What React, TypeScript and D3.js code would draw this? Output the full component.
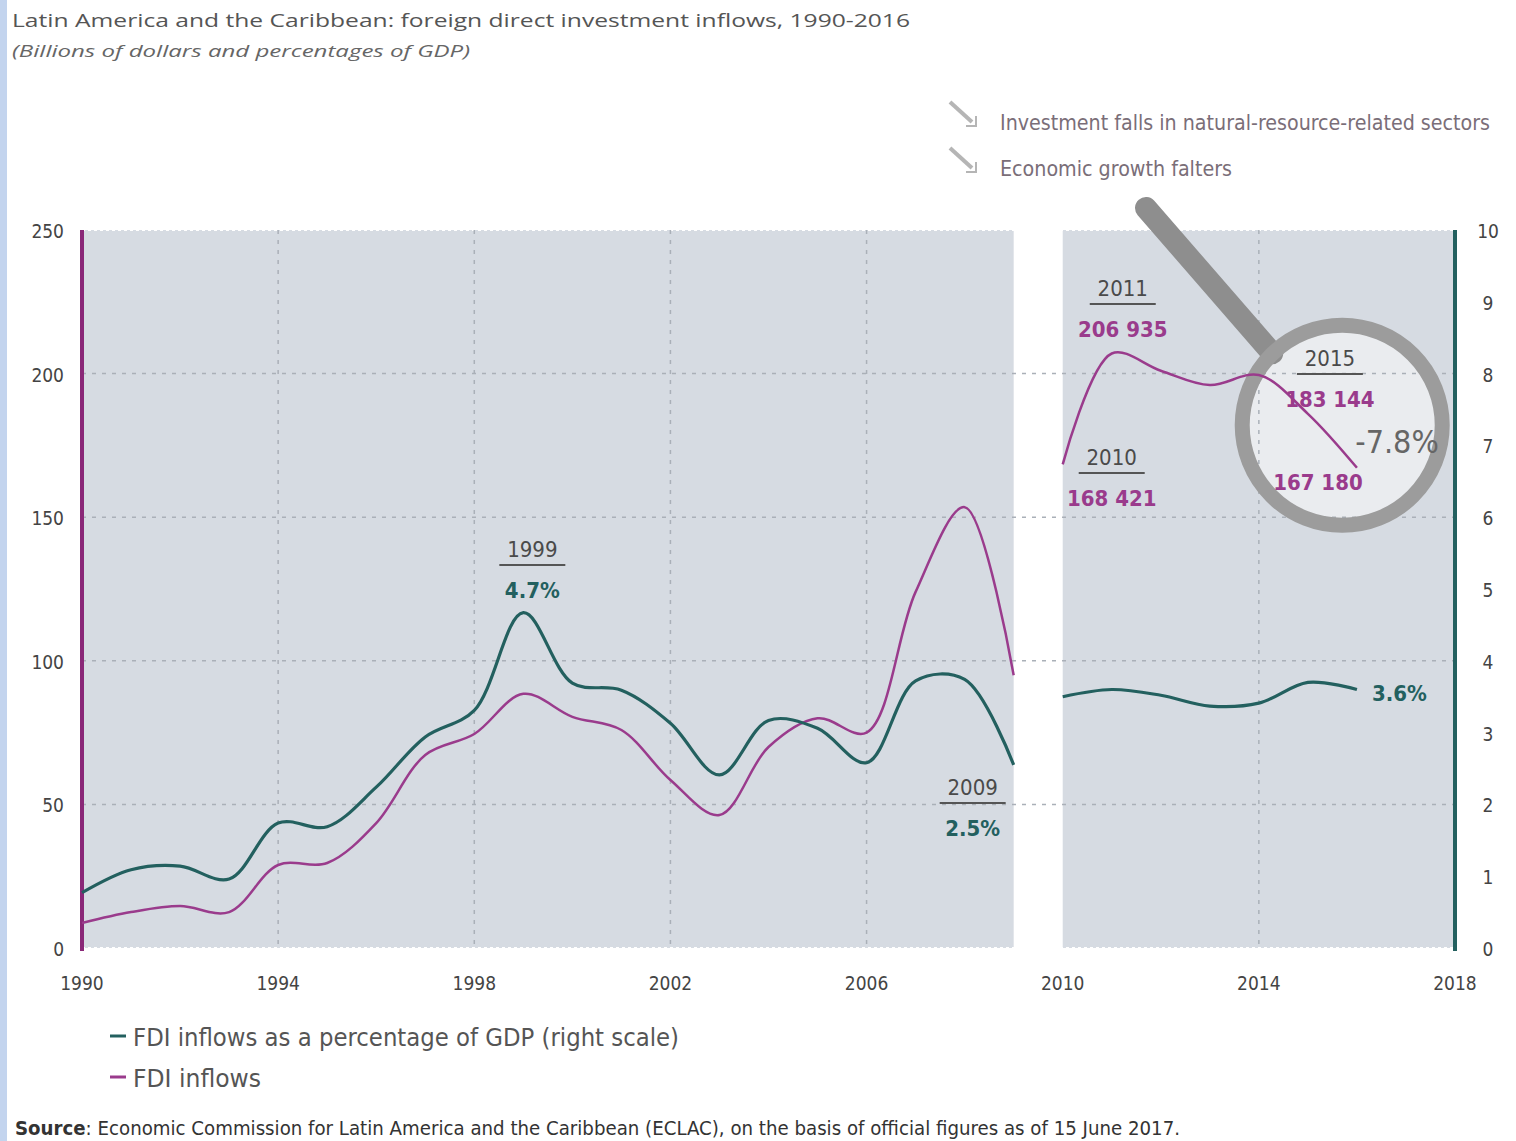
import React from "react";
import * as d3 from "d3";

const yearsA = [1990, 1991, 1992, 1993, 1994, 1995, 1996, 1997, 1998, 1999, 2000, 2001, 2002, 2003, 2004, 2005, 2006, 2007, 2008, 2009];
const inflowsA = [8.7, 12.5, 14.6, 12.5, 28.9, 29.6, 43.5, 67.2, 74.5, 88.5, 80.5, 75.9, 58.5, 46.3, 70, 80, 75, 124, 153.5, 95];
const gdpA = [0.77, 1.09, 1.14, 0.96, 1.74, 1.69, 2.24, 2.94, 3.31, 4.67, 3.69, 3.59, 3.13, 2.41, 3.17, 3.06, 2.58, 3.72, 3.74, 2.55];

const yearsB = [2010, 2011, 2012, 2013, 2014, 2015, 2016];
const inflowsB = [168.4, 207, 201, 196, 199.5, 186, 167.2];
const gdpB = [3.5, 3.6, 3.52, 3.37, 3.41, 3.7, 3.6];

const xTicks = [1990, 1994, 1998, 2002, 2006, 2010, 2014, 2018];
const xGrid = [1994, 1998, 2002, 2006, 2014];
const leftTicks = [0, 50, 100, 150, 200, 250];
const rightTicks = [0, 1, 2, 3, 4, 5, 6, 7, 8, 9, 10];
const hGrid = [50, 100, 150, 200];

const TITLE = "Latin America and the Caribbean: foreign direct investment inflows, 1990-2016";
const SUBTITLE = "(Billions of dollars and percentages of GDP)";
const NOTE1 = "Investment falls in natural-resource-related sectors";
const NOTE2 = "Economic growth falters";
const LEG1 = "FDI inflows as a percentage of GDP (right scale)";
const LEG2 = "FDI inflows";
const SOURCE = ": Economic Commission for Latin America and the Caribbean (ECLAC), on the basis of official figures as of 15 June 2017.";

const W = 1516;
const H = 1141;
const PURPLE = "#9a3b8c";
const PURPLE_AX = "#8a2878";
const TEAL = "#23605f";
const GREYBG = "#d6dbe2";
const COND = "'Liberation Sans Narrow', 'DejaVu Sans Condensed', 'Roboto', sans-serif";

export default function App() {
  const x = d3.scaleLinear().domain([1990, 2018]).range([82, 1455]);
  const yL = d3.scaleLinear().domain([0, 250]).range([948, 230]);
  const yR = d3.scaleLinear().domain([0, 10]).range([948, 230]);

  const lineL = d3.line<[number, number]>().x(d => x(d[0])).y(d => yL(d[1])).curve(d3.curveCatmullRom.alpha(0.5));
  const lineR = d3.line<[number, number]>().x(d => x(d[0])).y(d => yR(d[1])).curve(d3.curveCatmullRom.alpha(0.5));

  const pA = yearsA.map((yr, i) => [yr, inflowsA[i]] as [number, number]);
  const gA = yearsA.map((yr, i) => [yr, gdpA[i]] as [number, number]);
  const pB = yearsB.map((yr, i) => [yr, inflowsB[i]] as [number, number]);
  const gB = yearsB.map((yr, i) => [yr, gdpB[i]] as [number, number]);

  const lensCx = x(2015.7);
  const lensCy = yL(182);
  const lensR = 100;

  const label = (cx: number, yearTxt: string, yearBase: number, val: string, color: string) => (
    <g>
      <text x={cx} y={yearBase} textAnchor="middle" fontFamily={COND} fontSize={22} fill="#4a4a4a">{yearTxt}</text>
      <line x1={cx - 33} x2={cx + 33} y1={yearBase + 8} y2={yearBase + 8} stroke="#555" strokeWidth={2} />
      <text x={cx} y={yearBase + 41} textAnchor="middle" fontFamily={COND} fontSize={22} fontWeight="bold" fill={color}>{val}</text>
    </g>
  );

  return (
    <svg width={W} height={H} style={{ position: "absolute", left: 0, top: 0, background: "#ffffff" }}>
      <rect x={0} y={0} width={W} height={H} fill="#ffffff" />
      <rect x={0} y={0} width={7} height={H} fill="#c3d4ee" />

      {/* title */}
      <text x={12} y={27} fontFamily="'Open Sans', sans-serif" fontSize={19} fill="#555" textLength={898} lengthAdjust="spacingAndGlyphs">{TITLE}</text>
      <text x={12} y={57} fontFamily="'Open Sans', sans-serif" fontStyle="italic" fontSize={16} fill="#666" textLength={458} lengthAdjust="spacingAndGlyphs">{SUBTITLE}</text>

      {/* plot backgrounds */}
      <rect x={x(1990)} y={yL(250)} width={x(2009) - x(1990)} height={yL(0) - yL(250)} fill={GREYBG} />
      <rect x={x(2010)} y={yL(250)} width={x(2018) - x(2010)} height={yL(0) - yL(250)} fill={GREYBG} />
      <line x1={x(1990)} x2={x(2018)} y1={yL(250)} y2={yL(250)} stroke="#ffffff" strokeWidth={2} strokeDasharray="3,3" />
      <line x1={x(1990)} x2={x(2018)} y1={yL(0)} y2={yL(0)} stroke="#ffffff" strokeWidth={2} strokeDasharray="3,3" />

      {/* lens glass */}
      <circle cx={lensCx} cy={lensCy} r={lensR} fill="#eaecef" />

      {/* grid */}
      {hGrid.map(v => (
        <line key={"h" + v} x1={x(1990)} x2={x(2018)} y1={yL(v)} y2={yL(v)} stroke="#aab0b8" strokeWidth={1.5} strokeDasharray="4,6" />
      ))}
      {xGrid.map(v => (
        <line key={"v" + v} x1={x(v)} x2={x(v)} y1={yL(250)} y2={yL(0)} stroke="#aab0b8" strokeWidth={1.5} strokeDasharray="4,6" />
      ))}

      {/* lens ring and handle */}
      <line x1={1146} y1={208} x2={lensCx - lensR * 0.7} y2={lensCy - lensR * 0.72} stroke="#8e8e8e" strokeWidth={22} strokeLinecap="round" />
      <circle cx={lensCx} cy={lensCy} r={lensR} fill="none" stroke="#9c9c9c" strokeWidth={15} />

      {/* axes */}
      <line x1={x(1990)} x2={x(1990)} y1={yL(250)} y2={yL(0) + 3} stroke={PURPLE_AX} strokeWidth={4} />
      <line x1={x(2018)} x2={x(2018)} y1={yL(250)} y2={yL(0) + 3} stroke={TEAL} strokeWidth={4} />

      {/* lines */}
      <path d={lineL(pA) || ""} fill="none" stroke={PURPLE} strokeWidth={2.5} />
      <path d={lineL(pB) || ""} fill="none" stroke={PURPLE} strokeWidth={2.5} />
      <path d={lineR(gA) || ""} fill="none" stroke={TEAL} strokeWidth={3.2} />
      <path d={lineR(gB) || ""} fill="none" stroke={TEAL} strokeWidth={3.2} />

      {/* tick labels */}
      {leftTicks.map(v => (
        <text key={"l" + v} x={64} y={yL(v) + 8} textAnchor="end" fontFamily={COND} fontSize={19} fill="#444">{v}</text>
      ))}
      {rightTicks.map(v => (
        <text key={"r" + v} x={1488} y={yR(v) + 8} textAnchor="middle" fontFamily={COND} fontSize={19} fill="#444">{v}</text>
      ))}
      {xTicks.map(v => (
        <text key={"x" + v} x={x(v)} y={990} textAnchor="middle" fontFamily={COND} fontSize={19} fill="#444">{v}</text>
      ))}

      {/* annotations */}
      {label(x(1999) + 9, "1999", 557, "4.7%", TEAL)}
      {label(x(2009) - 41, "2009", 795, "2.5%", TEAL)}
      {label(x(2011) + 11, "2011", 296, "206 935", PURPLE)}
      {label(x(2010) + 49, "2010", 465, "168 421", PURPLE)}
      {label(x(2015) + 22, "2015", 366, "183 144", PURPLE)}
      <text x={x(2016) - 39} y={490} textAnchor="middle" fontFamily={COND} fontSize={22} fontWeight="bold" fill={PURPLE}>167 180</text>
      <text x={1397} y={453} textAnchor="middle" fontFamily={COND} fontSize={32} fill="#666">-7.8%</text>
      <text x={1372} y={701} fontFamily={COND} fontSize={22} fontWeight="bold" fill={TEAL}>3.6%</text>

      {/* top-right notes */}
      {[118, 164].map((yy, i) => (
        <g key={"arr" + i}>
          <line x1={950} y1={yy - 16} x2={972} y2={yy + 4} stroke="#b5b5b5" strokeWidth={4} />
          <path d={`M ${966} ${yy + 8} L ${976} ${yy + 8} L ${976} ${yy - 2}`} fill="none" stroke="#b5b5b5" strokeWidth={2} />
        </g>
      ))}
      <text x={1000} y={130} fontFamily={COND} fontSize={21} fill="#7a6e78" textLength={490} lengthAdjust="spacingAndGlyphs">{NOTE1}</text>
      <text x={1000} y={176} fontFamily={COND} fontSize={21} fill="#7a6e78" textLength={232} lengthAdjust="spacingAndGlyphs">{NOTE2}</text>

      {/* legend */}
      <line x1={110} x2={126} y1={1036} y2={1036} stroke={TEAL} strokeWidth={3} />
      <text x={133} y={1046} fontFamily={COND} fontSize={25} fill="#555" textLength={546} lengthAdjust="spacingAndGlyphs">{LEG1}</text>
      <line x1={110} x2={126} y1={1077} y2={1077} stroke={PURPLE} strokeWidth={3} />
      <text x={133} y={1087} fontFamily={COND} fontSize={25} fill="#555" textLength={128} lengthAdjust="spacingAndGlyphs">{LEG2}</text>

      {/* source */}
      <text x={15} y={1135} fontFamily={COND} fontSize={19} fill="#333" textLength={1165} lengthAdjust="spacingAndGlyphs">
        <tspan fontWeight="bold">Source</tspan>
        <tspan>{SOURCE}</tspan>
      </text>
    </svg>
  );
}
